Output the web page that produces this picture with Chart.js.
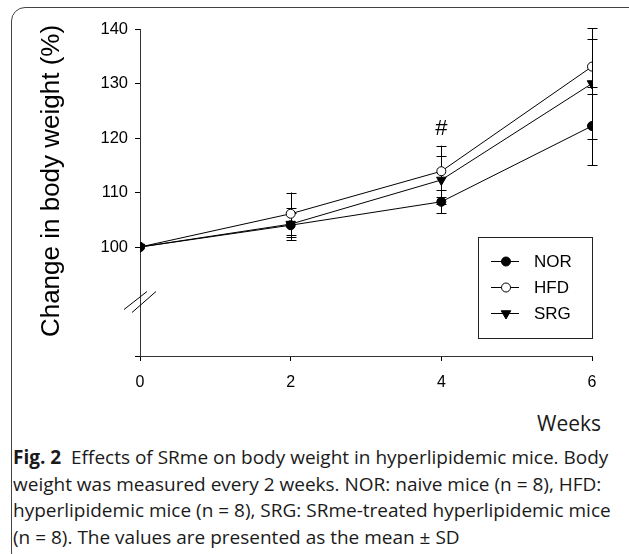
<!DOCTYPE html>
<html>
<head>
<meta charset="utf-8">
<script src="https://cdn.jsdelivr.net/npm/chart.js@4/dist/chart.umd.min.js"></script>
<style>
body{margin:0;background:#fff;width:629px;height:554px;overflow:hidden;position:relative;font-family:"Open Sans",sans-serif;color:#1a1a1a}
#frame{position:absolute;left:11px;top:7px;width:640px;height:560px;border:1px solid #444;border-radius:14px;box-sizing:border-box;z-index:2;pointer-events:none}
#wrap{position:absolute;left:0;top:0;width:629px;height:400px}
#weeks{position:absolute;left:537px;top:409px;font-size:21px;line-height:28px;white-space:nowrap;transform-origin:0 0}
#caption{position:absolute;left:13px;top:444px;font-size:19px;line-height:26.5px}
.ln{white-space:nowrap;transform-origin:0 0}
</style>
</head>
<body>
<div id="frame"></div>
<div id="wrap"><canvas id="myChart" width="629" height="400"></canvas></div>
<div id="weeks">Weeks</div>
<div id="caption">
<div class="ln"><b>Fig. 2</b>&nbsp; Effects of SRme on body weight in hyperlipidemic mice. Body</div>
<div class="ln">weight was measured every 2 weeks. NOR: naive mice (n = 8), HFD:</div>
<div class="ln">hyperlipidemic mice (n = 8), SRG: SRme-treated hyperlipidemic mice</div>
<div class="ln">(n = 8). The values are presented as the mean ± SD</div>
</div>
<script>
// values
const weeks = [0, 2, 4, 6];
const groups = ["NOR", "HFD", "SRG"];
const norMean = [100, 104.0, 108.3, 122.2];
const norSD = [0, 2.2, 2.1, 7.2];
const hfdMean = [100, 106.1, 113.9, 133.1];
const hfdSD = [0, 3.9, 4.7, 5.1];
const srgMean = [100, 104.2, 112.3, 130.0];
const srgSD = [0, 2.9, 4.4, 10.1];
const yTickValues = [80, 100, 110, 120, 130, 140];
const yTitle = "Change in body weight (%)";
const markLabel = "#";
const markWeek = 4;
const markValue = 121.7;

const pts = (m) => weeks.map((w, i) => ({x: w, y: m[i]}));
const axisFont = '"Liberation Sans", Arial, sans-serif';

const errorBars = {
    id: 'errorBars',
    beforeDatasetsDraw(chart) {
        const ctx = chart.ctx, xs = chart.scales.x, ys = chart.scales.y;
        ctx.save();
        ctx.strokeStyle = '#000';
        ctx.lineWidth = 1;
        chart.data.datasets.forEach(ds => {
            ds.data.forEach((p, i) => {
                const sd = ds.sd[i];
                if (!sd) return;
                const px = Math.round(xs.getPixelForValue(p.x)) + 0.5;
                const top = ys.getPixelForValue(p.y + sd);
                const bot = ys.getPixelForValue(p.y - sd);
                ctx.beginPath();
                ctx.moveTo(px, top); ctx.lineTo(px, bot);
                ctx.moveTo(px - 5, Math.round(top) + 0.5); ctx.lineTo(px + 5, Math.round(top) + 0.5);
                ctx.moveTo(px - 5, Math.round(bot) + 0.5); ctx.lineTo(px + 5, Math.round(bot) + 0.5);
                ctx.stroke();
            });
        });
        ctx.restore();
    }
};

function marker(ctx, ds, x, y) {
    ctx.fillStyle = ds.pointBackgroundColor;
    ctx.strokeStyle = '#000';
    ctx.lineWidth = 1;
    ctx.beginPath();
    if (ds.pointStyle === 'triangle') {
        const r = ds.pointRadius;
        ctx.moveTo(x - r * 0.87, y - r * 0.5);
        ctx.lineTo(x + r * 0.87, y - r * 0.5);
        ctx.lineTo(x, y + r);
        ctx.closePath();
    } else {
        ctx.arc(x, y, ds.pointRadius, 0, Math.PI * 2);
    }
    ctx.fill();
    ctx.stroke();
}

const extras = {
    id: 'extras',
    afterDraw(chart) {
        const ctx = chart.ctx, xs = chart.scales.x, ys = chart.scales.y;
        const area = chart.chartArea;
        ctx.save();
        // axis break
        const bx = xs.getPixelForValue(0), by = ys.getPixelForValue(90);
        ctx.strokeStyle = '#000';
        ctx.lineWidth = 1;
        ctx.beginPath();
        ctx.moveTo(bx - 16, by + 8); ctx.lineTo(bx + 7, by - 10);
        ctx.moveTo(bx - 8, by + 11); ctx.lineTo(bx + 16, by - 10);
        ctx.stroke();
        // significance mark
        ctx.fillStyle = '#000';
        ctx.font = '22px ' + axisFont;
        ctx.textAlign = 'center';
        ctx.textBaseline = 'middle';
        ctx.fillText(markLabel, xs.getPixelForValue(markWeek), ys.getPixelForValue(markValue));
        // y title
        ctx.save();
        ctx.translate(52, 181);
        ctx.rotate(-Math.PI / 2);
        ctx.font = '26px ' + axisFont;
        ctx.fillText(yTitle, 0, 0);
        ctx.restore();
        // legend
        const L = area.right - 114, T = area.bottom - 119, W = 114, H = 101;
        ctx.strokeStyle = '#222';
        ctx.strokeRect(L + 0.5, T + 0.5, W, H);
        ctx.font = '17px ' + axisFont;
        ctx.textAlign = 'left';
        chart.data.datasets.forEach((ds, i) => {
            const y = T + 24 + i * 26;
            ctx.beginPath();
            ctx.moveTo(L + 13, y + 0.5); ctx.lineTo(L + 41, y + 0.5);
            ctx.strokeStyle = '#000';
            ctx.stroke();
            marker(ctx, ds, L + 28, y + 0.5);
            ctx.fillStyle = '#000';
            ctx.fillText(ds.label, L + 56, y + 1);
        });
        ctx.restore();
    }
};

const style = (label, m, sd, fill, shape, r) => ({
    label: label, data: pts(m), sd: sd,
    borderColor: '#000', borderWidth: 1,
    pointStyle: shape, pointRotation: shape === 'triangle' ? 180 : 0,
    pointRadius: r, pointBorderWidth: 1,
    pointBackgroundColor: fill, pointBorderColor: '#000'
});

new Chart(document.getElementById("myChart"), {
    type: 'line',
    data: {
        datasets: [
            style(groups[0], norMean, norSD, '#000', 'circle', 4.5),
            style(groups[1], hfdMean, hfdSD, '#fff', 'circle', 4.5),
            style(groups[2], srgMean, srgSD, '#000', 'triangle', 5.5)
        ]
    },
    options: {
        responsive: false,
        animation: false,
        devicePixelRatio: 1,
        layout: {padding: {left: 0, top: 29, right: 37, bottom: 4}},
        plugins: {legend: {display: false}, tooltip: {enabled: false}},
        scales: {
            x: {
                type: 'linear', min: 0, max: 6,
                afterFit: s => { s.height = 40; },
                afterBuildTicks: s => { s.ticks = weeks.map(v => ({value: v})); },
                grid: {drawOnChartArea: false, tickLength: 5, color: '#000'},
                border: {color: '#333'},
                ticks: {color: '#000', font: {family: axisFont, size: 16}, padding: 12}
            },
            y: {
                type: 'linear', min: 80, max: 140,
                afterFit: s => { s.width = 140; },
                afterBuildTicks: s => { s.ticks = yTickValues.map(v => ({value: v})); },
                grid: {drawOnChartArea: false, tickLength: 5, color: '#000'},
                border: {color: '#333'},
                ticks: {color: '#000', font: {family: axisFont, size: 16.5}, padding: 7,
                        callback: v => v < 100 ? '' : v}
            }
        }
    },
    plugins: [errorBars, extras]
});

document.fonts.ready.then(() => {
    const lines = document.querySelectorAll('.ln');
    const k = 598 / lines[0].scrollWidth;
    lines.forEach(l => { l.style.transform = 'scaleX(' + k + ')'; });
    document.getElementById('weeks').style.transform = 'scaleX(' + k + ')';
});
</script>
</body>
</html>
